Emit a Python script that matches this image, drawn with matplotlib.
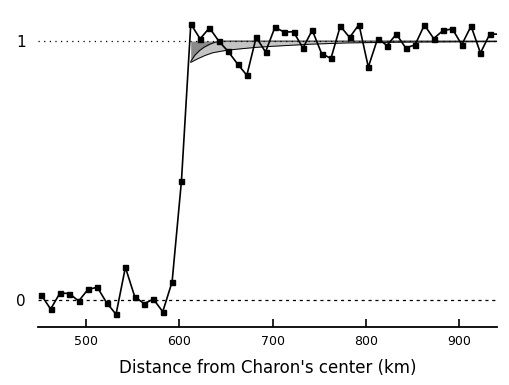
import matplotlib
matplotlib.use("Agg")
import matplotlib.pyplot as plt
import numpy as np

# Observed light-curve points (distance km, normalized flux)
dist = [452.5, 462.5, 472.5, 482.5, 492.5, 502.5, 512.5, 522.5, 532.5, 542.5,
        552.5, 562.5, 572.5, 582.5, 592.5, 602.5, 612.5, 622.5, 632.5, 642.5,
        652.5, 662.5, 672.5, 682.5, 692.5, 702.5, 712.5, 722.5, 732.5, 742.5,
        752.5, 762.5, 772.5, 782.5, 792.5, 802.5, 812.5, 822.5, 832.5, 842.5,
        852.5, 862.5, 872.5, 882.5, 892.5, 902.5, 912.5, 922.5, 932.5, 946.0]
flux = [0.020, -0.034, 0.028, 0.026, -0.003, 0.042, 0.050, -0.010, -0.054, 0.127,
        0.014, -0.013, 0.004, -0.044, 0.071, 0.46, 1.066, 1.009, 1.051, 1.000,
        0.960, 0.912, 0.868, 1.015, 0.958, 1.053, 1.035, 1.036, 0.973, 1.042,
        0.952, 0.933, 1.058, 1.014, 1.064, 0.900, 1.010, 0.983, 1.027, 0.974,
        0.985, 1.062, 1.010, 1.041, 1.047, 0.986, 1.058, 0.954, 1.027, 1.027]

# Model curves
modelA_x = [612.5, 617, 622, 627, 633, 638, 644, 940]
modelA_y = [0.922, 0.946, 0.964, 0.977, 0.988, 0.995, 1.000, 1.000]
modelB_x = [612.5, 620, 628, 636, 645, 654, 668, 683, 700, 720, 740, 780, 840, 940]
modelB_y = [0.918, 0.932, 0.945, 0.955, 0.961, 0.966, 0.971, 0.976, 0.980, 0.984, 0.988, 0.993, 0.996, 0.998]

xticks = [500, 600, 700, 800, 900]
yticks = [0, 1]

fig = plt.figure(figsize=(5.09, 3.85), dpi=100)
ax = fig.add_axes([0.0747, 0.1514, 0.9013, 0.8226])

xa = np.array(modelA_x); ya = np.array(modelA_y)
xb = np.array(modelB_x); yb = np.array(modelB_y)
ax.fill_between(xb, yb, 1.0, color="#c4c4c4", lw=0, zorder=1)
ax.fill_between(xa, ya, 1.0, color="#8a8a8a", lw=0, zorder=1.5)
ax.plot(xa, ya, color="black", lw=0.7, zorder=2)
ax.plot(xb, yb, color="black", lw=0.7, zorder=2)

ax.axhline(1, color="black", lw=0.9, ls=(0, (1, 3.5)), zorder=1.8)
ax.axhline(0, color="black", lw=0.9, ls=(0, (2.5, 3)), zorder=1.8)

ax.plot(dist, flux, color="black", lw=1.2, marker="s", ms=3.6, zorder=3)

ax.set_xlim(449, 940)
ax.set_ylim(-0.102, 1.12)

for s in ["top", "right", "left"]:
    ax.spines[s].set_visible(False)
ax.spines["bottom"].set_linewidth(1.3)

ax.set_xticks(xticks)
ax.set_xticklabels([str(t) for t in xticks], fontsize=9)
ax.tick_params(axis="x", direction="in", length=6, width=1.2, pad=6)
ax.set_yticks(yticks)
ax.set_yticklabels([str(t) for t in yticks], fontsize=11)
ax.tick_params(axis="y", length=0, pad=9)

ax.set_xlabel("Distance from Charon's center (km)", fontsize=12, labelpad=8)

fig.savefig("out.png", dpi=100)
